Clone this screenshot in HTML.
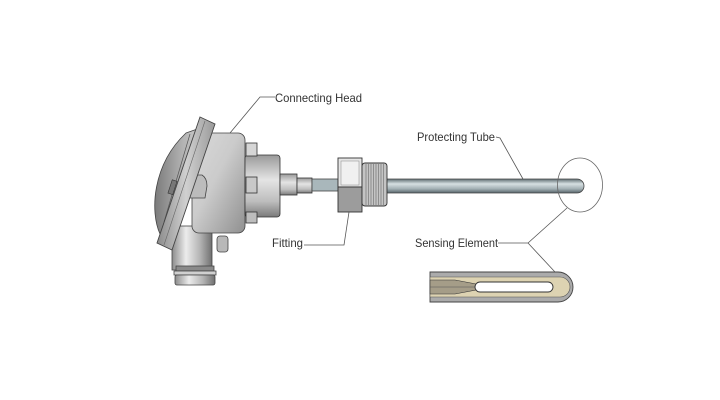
<!DOCTYPE html>
<html><head><meta charset="utf-8"><style>
html,body{margin:0;padding:0;background:#fff;}
svg{display:block;}
text{font-family:"Liberation Sans",sans-serif;font-size:12px;fill:#333;}
</style></head><body>
<svg width="720" height="400" viewBox="0 0 720 400" xmlns="http://www.w3.org/2000/svg">
<defs>
<linearGradient id="body" x1="0" y1="0" x2="1" y2="1">
<stop offset="0" stop-color="#dadada"/><stop offset="0.45" stop-color="#cbcbcb"/><stop offset="1" stop-color="#909090"/>
</linearGradient>
<linearGradient id="hcyl" x1="0" y1="0" x2="1" y2="0">
<stop offset="0" stop-color="#8c8c8c"/><stop offset="0.35" stop-color="#ececec"/><stop offset="0.7" stop-color="#b4b4b4"/><stop offset="1" stop-color="#707070"/>
</linearGradient>
<linearGradient id="vcyl" x1="0" y1="0" x2="0" y2="1">
<stop offset="0" stop-color="#9a9a9a"/><stop offset="0.4" stop-color="#e4e4e4"/><stop offset="0.75" stop-color="#bdbdbd"/><stop offset="1" stop-color="#7a7a7a"/>
</linearGradient>
<linearGradient id="tube" x1="0" y1="0" x2="0" y2="1">
<stop offset="0" stop-color="#5f6d72"/><stop offset="0.35" stop-color="#d6e0e2"/><stop offset="0.7" stop-color="#a3b0b4"/><stop offset="1" stop-color="#56646a"/>
</linearGradient>
<linearGradient id="plate" x1="0" y1="0" x2="1" y2="0">
<stop offset="0" stop-color="#8a8a8a"/><stop offset="0.5" stop-color="#d0d0d0"/><stop offset="1" stop-color="#9a9a9a"/>
</linearGradient>
<linearGradient id="dome" x1="0" y1="0" x2="1" y2="0">
<stop offset="0" stop-color="#7a7a7a"/><stop offset="0.6" stop-color="#b4b4b4"/><stop offset="1" stop-color="#cfcfcf"/>
</linearGradient>
</defs>

<!-- neck -->
<rect x="172" y="226" width="40" height="44" fill="url(#hcyl)" stroke="#444" stroke-width="0.8"/>
<rect x="176" y="266" width="38" height="5" fill="#8a8a8a" stroke="#444" stroke-width="0.8"/>
<rect x="174" y="271" width="42" height="4" fill="#d0d0d0" stroke="#444" stroke-width="0.8"/>
<rect x="175" y="275" width="40" height="10" rx="2" fill="url(#hcyl)" stroke="#444" stroke-width="0.8"/>
<!-- small bracket -->
<rect x="217" y="236" width="11" height="16" rx="3" fill="#b8b8b8" stroke="#444" stroke-width="0.8"/>

<!-- body -->
<rect x="192" y="133" width="53" height="100" rx="7" fill="url(#body)" stroke="#444" stroke-width="0.8"/>

<!-- boss -->
<rect x="245" y="155" width="35" height="62" rx="3" fill="url(#vcyl)" stroke="#333" stroke-width="0.8"/>
<rect x="246" y="143" width="11" height="13" fill="#d6d6d6" stroke="#333" stroke-width="0.8"/>
<rect x="246" y="177" width="11" height="16" fill="#c8c8c8" stroke="#333" stroke-width="0.8"/>
<rect x="246" y="212" width="11" height="11" fill="#bdbdbd" stroke="#333" stroke-width="0.8"/>

<!-- tab -->
<path d="M192 175 L202 175 Q207 178 207 186 L205 198 L190 198 Z" fill="#bcbcbc" stroke="#444" stroke-width="0.8"/>

<!-- dome -->
<path d="M186 133 L203 127 L167 238 L160 234 C150 212 152 165 186 133 Z" fill="url(#dome)" stroke="#444" stroke-width="0.8"/>
<path d="M190 134 L164 222" stroke="#555" stroke-width="0.7"/>
<path d="M195 132 L168 228" stroke="#555" stroke-width="0.7"/>
<rect x="170" y="180" width="5" height="14" fill="#777" stroke="#333" stroke-width="0.6" transform="rotate(18 172 187)"/>
<!-- plate -->
<path d="M200 117 L215 124 L172 250 L157 243 Z" fill="url(#plate)" stroke="#444" stroke-width="0.9"/>
<path d="M205 121 L164 245" stroke="#666" stroke-width="0.6"/>

<!-- stems -->
<rect x="280" y="174" width="17" height="21" fill="url(#vcyl)" stroke="#333" stroke-width="0.8"/>
<rect x="297" y="178" width="15" height="15" fill="url(#vcyl)" stroke="#333" stroke-width="0.8"/>
<rect x="312" y="179" width="26" height="12" fill="#a9b7bb" stroke="#444" stroke-width="0.8"/>

<!-- tube -->
<path d="M385 179 L577 179 A7 7 0 0 1 577 193 L385 193 Z" fill="url(#tube)" stroke="#444" stroke-width="0.8"/>

<!-- nut -->
<rect x="338" y="158" width="24" height="29" fill="#e6e6e6" stroke="#333" stroke-width="0.9"/>
<rect x="341" y="161" width="18" height="24" fill="#f0f0f0" stroke="#888" stroke-width="0.5"/>
<rect x="338" y="187" width="24" height="25" fill="#9c9c9c" stroke="#333" stroke-width="0.9"/>
<!-- thread -->
<rect x="362" y="163" width="25" height="43" rx="3" fill="#c4c4c4" stroke="#333" stroke-width="0.9"/>
<g stroke="#6a6a6a" stroke-width="0.6">
<line x1="366" y1="164" x2="366" y2="205"/><line x1="368.5" y1="164" x2="368.5" y2="205"/>
<line x1="371" y1="164" x2="371" y2="205"/><line x1="373.5" y1="164" x2="373.5" y2="205"/>
<line x1="376" y1="164" x2="376" y2="205"/><line x1="378.5" y1="164" x2="378.5" y2="205"/>
<line x1="381" y1="164" x2="381" y2="205"/><line x1="383.5" y1="164" x2="383.5" y2="205"/>
</g>

<!-- circle -->
<ellipse cx="580" cy="185" rx="22.5" ry="27" fill="none" stroke="#666" stroke-width="0.8"/>

<!-- sensing element -->
<path d="M430 272 L558 272 A15 15 0 0 1 558 302 L430 302 Z" fill="#ababab" stroke="#444" stroke-width="0.9"/>
<path d="M430 277 L560 277 A10 10 0 0 1 560 297 L430 297 Z" fill="#ddd3b2" stroke="#555" stroke-width="0.6"/>
<path d="M430 280 L455 280 L476 284 L476 290 L455 294 L430 294 Z" fill="#a59d88" stroke="#333" stroke-width="0.6"/>
<path d="M430 287 L476 287" stroke="#555" stroke-width="0.5"/>
<rect x="475" y="282" width="78" height="10" rx="5" fill="#fff" stroke="#333" stroke-width="0.9"/>

<!-- leaders -->
<g fill="none" stroke="#555" stroke-width="0.8">
<path d="M275 97 L260 97 L230 133"/>
<path d="M496 137 L500 138 L523 179"/>
<path d="M304 245 L344 245 L349 212"/>
<path d="M498 243 L528 243 L567 208"/>
<path d="M528 243 L555 272"/>
</g>

<!-- labels -->
<text x="275" y="102" textLength="87" lengthAdjust="spacingAndGlyphs">Connecting Head</text>
<text x="417" y="141" textLength="78" lengthAdjust="spacingAndGlyphs">Protecting Tube</text>
<text x="272" y="247" textLength="31" lengthAdjust="spacingAndGlyphs">Fitting</text>
<text x="415" y="247" textLength="83" lengthAdjust="spacingAndGlyphs">Sensing Element</text>
</svg>
</body></html>
